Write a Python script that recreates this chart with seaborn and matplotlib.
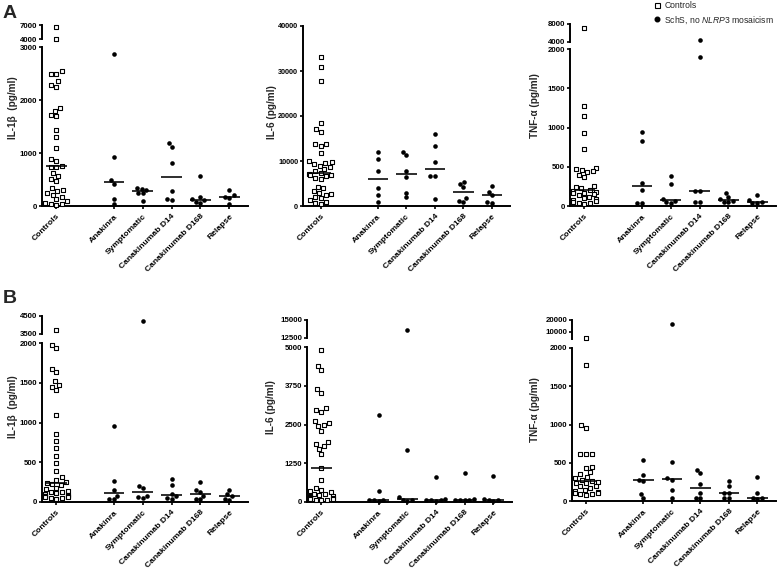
import numpy as np
import pandas as pd
import matplotlib
matplotlib.use("Agg")
import matplotlib.pyplot as plt
import seaborn as sns
from matplotlib.lines import Line2D

# ---------------- data ----------------
GROUPS = ["Controls", "Anakinra", "Symptomatic", "Canakinumab D14",
          "Canakinumab D168", "Relapse"]
SLOTS = ["Controls", "_gap", "Anakinra", "Symptomatic", "Canakinumab D14",
         "Canakinumab D168", "Relapse"]

a_il1b = {
    "Controls": [6500, 4100, 2540, 2490, 2490, 2350, 2280, 2250, 1840, 1800, 1715,
                 1700, 1430, 1300, 1095, 880, 850, 760, 740, 730, 620, 575, 510,
                 475, 335, 300, 275, 240, 210, 165, 130, 85, 50, 40, 30, 20],
    "Anakinra": [2860, 920, 490, 420, 140, 35],
    "Symptomatic": [335, 330, 300, 250, 240, 100],
    "Canakinumab D14": [1180, 1110, 820, 280, 125, 120],
    "Canakinumab D168": [575, 175, 130, 110, 80, 60],
    "Relapse": [300, 200, 175, 160, 40],
}
a_il6 = {
    "Controls": [33100, 30900, 27700, 18500, 17200, 16400, 13800, 13700, 13400,
                 11700, 9900, 9800, 9600, 9300, 9000, 8700, 8200, 7800, 7250, 7100,
                 7000, 6800, 6600, 6300, 5900, 4300, 3900, 3300, 3000, 2700, 2500,
                 2100, 1800, 1300, 1000, 700, 500],
    "Anakinra": [12100, 10500, 7800, 4100, 2400, 1000],
    "Symptomatic": [12100, 11300, 7800, 6500, 3000, 1900],
    "Canakinumab D14": [16100, 13400, 9700, 6700, 6600, 1500],
    "Canakinumab D168": [5300, 4900, 4300, 1800, 1200, 900],
    "Relapse": [4400, 3200, 2500, 900, 700],
}
a_tnf = {
    "Controls": [7200, 1280, 1150, 930, 720, 480, 470, 460, 440, 430, 400, 370, 250,
                 240, 230, 200, 190, 180, 170, 160, 150, 140, 120, 100, 90, 80, 60,
                 50, 40, 40, 30],
    "Anakinra": [940, 830, 290, 210, 40, 40],
    "Symptomatic": [385, 280, 90, 60, 45, 40],
    "Canakinumab D14": [4400, 1900, 190, 185, 45, 45],
    "Canakinumab D168": [170, 120, 85, 60, 50, 45],
    "Relapse": [145, 80, 45, 40, 35],
}
b_il1b = {
    "Controls": [3750, 1980, 1940, 1670, 1630, 1520, 1470, 1450, 1410, 1100, 850,
                 770, 680, 580, 490, 390, 310, 280, 250, 240, 230, 220, 180, 160,
                 140, 130, 120, 110, 100, 90, 80, 75, 70, 65, 60, 50, 45, 40],
    "Anakinra": [960, 260, 150, 80, 40, 35],
    "Symptomatic": [4200, 200, 170, 75, 60, 50],
    "Canakinumab D14": [290, 220, 105, 70, 50, 40],
    "Canakinumab D168": [250, 150, 130, 80, 40, 35],
    "Relapse": [150, 95, 80, 40, 30],
}
b_il6 = {
    "Controls": [4900, 4400, 4250, 3650, 3530, 3020, 2960, 2900, 2600, 2550, 2500,
                 2450, 2300, 1920, 1880, 1820, 1720, 1560, 1100, 700, 450, 400, 350,
                 320, 270, 250, 220, 200, 180, 160, 140, 120, 100, 90, 80, 60, 50],
    "Anakinra": [2800, 350, 80, 60, 50, 30],
    "Symptomatic": [13600, 1680, 160, 60, 50, 40],
    "Canakinumab D14": [800, 100, 75, 60, 50, 40],
    "Canakinumab D168": [950, 100, 80, 70, 60, 50],
    "Relapse": [830, 100, 80, 50, 40],
}
b_tnf = {
    "Controls": [4300, 1780, 990, 960, 620, 610, 610, 450, 430, 380, 350, 320, 300,
                 280, 260, 250, 240, 230, 200, 190, 170, 150, 130, 120, 110, 100,
                 95, 90, 80],
    "Anakinra": [540, 340, 280, 265, 90, 35],
    "Symptomatic": [16500, 510, 300, 275, 150, 35],
    "Canakinumab D14": [400, 360, 220, 110, 35, 35],
    "Canakinumab D168": [255, 195, 110, 100, 40, 35],
    "Relapse": [310, 100, 40, 35, 30],
}

IL1B_LABEL = "IL-1\u03b2  (pg/ml)"
IL6_LABEL = "IL-6 (pg/ml)"
TNF_LABEL = "TNF-\u03b1 (pg/ml)"

# ---------------- style ----------------
sns.set_style("ticks")
plt.rcParams.update({
    "font.family": ["Liberation Sans", "DejaVu Sans"],
    "font.weight": "bold",
    "mathtext.fontset": "custom",
    "mathtext.rm": "Liberation Sans:weight=normal",
    "mathtext.it": "Liberation Sans:style=italic:weight=normal",
    "axes.linewidth": 1.4,
    "axes.edgecolor": "black",
    "xtick.color": "black",
    "ytick.color": "black",
})

W, H = 778, 572
fig = plt.figure(figsize=(W / 100, H / 100), dpi=100)


def px_axes(l, r, t, b):
    ax = fig.add_axes([l / W, 1 - b / H, (r - l) / W, (b - t) / H])
    ax.patch.set_alpha(0)
    return ax


def long_df(panel):
    rows = [(g, v) for g in GROUPS for v in panel[g]]
    return pd.DataFrame(rows, columns=["group", "value"])


TICK_POS = [0, 2, 3, 4, 5, 6]


def draw_points(ax, df, lo, hi):
    sub = df[(df.value > lo) & (df.value <= hi)]
    ctrl = sub[sub.group == "Controls"]
    pat = sub[sub.group != "Controls"]
    if len(ctrl):
        sns.swarmplot(data=ctrl, x="group", y="value", order=SLOTS, marker="s",
                      size=3.2, color="white", edgecolor="black", linewidth=0.8,
                      ax=ax, warn_thresh=1, zorder=3)
    if len(pat):
        sns.swarmplot(data=pat, x="group", y="value", order=SLOTS, marker="o",
                      size=3.3, color="black", linewidth=0, ax=ax,
                      warn_thresh=1, zorder=3)
    for c in ax.collections:
        c.set_clip_on(False)


def draw_medians(ax, df):
    sns.boxplot(data=df, x="group", y="value", order=SLOTS, width=0.72,
                showbox=False, showcaps=False, showfliers=False,
                whiskerprops={"visible": False},
                medianprops={"color": "black", "linewidth": 1.15, "zorder": 4},
                ax=ax)


def style_common(ax, xlim, ylim, yticks, ytick_fs):
    ax.set_xlim(xlim)
    ax.set_ylim(ylim)
    ax.set_yticks(yticks)
    ax.set_xlabel("")
    ax.set_ylabel("")
    ax.tick_params(axis="y", labelsize=ytick_fs, length=2.5, width=1.2, pad=1)
    for lab in ax.get_yticklabels():
        lab.set_fontweight("bold")
    ax.spines["top"].set_visible(False)
    ax.spines["right"].set_visible(False)


def panel(data, lower_box, lower_lim, lower_ticks, upper_box=None,
          upper_lim=None, upper_ticks=None, ytick_fs=5.7, xlim=(-0.5, 6.65)):
    df = long_df(data)
    lo_ax = px_axes(*lower_box)
    draw_medians(lo_ax, df)
    draw_points(lo_ax, df, -np.inf, lower_lim[1])
    style_common(lo_ax, xlim, lower_lim, lower_ticks, ytick_fs)
    lo_ax.set_xticks(TICK_POS)
    lo_ax.set_xticklabels(GROUPS, rotation=45, ha="right",
                          rotation_mode="anchor", fontsize=6.1,
                          fontweight="bold")
    lo_ax.tick_params(axis="x", length=2.5, width=1.2, pad=2.5)
    if upper_box is not None:
        up_ax = px_axes(*upper_box)
        draw_points(up_ax, df, lower_lim[1], upper_lim[1])
        style_common(up_ax, xlim, upper_lim, upper_ticks, ytick_fs)
        up_ax.set_xticks([])
        up_ax.spines["bottom"].set_visible(False)


# ---------------- panels ----------------
panel(a_il1b, (42, 248, 47, 206), (0, 3000), [0, 1000, 2000, 3000],
      (42, 248, 25, 39), (4000, 7000), [4000, 7000])
panel(a_il6, (303, 510, 26, 206), (0, 40000),
      [0, 10000, 20000, 30000, 40000], ytick_fs=5.2, xlim=(-0.62, 6.63))
panel(a_tnf, (570, 776, 49, 206), (0, 2000), [0, 500, 1000, 1500, 2000],
      (570, 776, 24, 42), (4000, 8000), [4000, 8000])
panel(b_il1b, (42, 248, 343, 502), (0, 2000), [0, 500, 1000, 1500, 2000],
      (42, 248, 316, 334), (3500, 4500), [3500, 4500])
panel(b_il6, (307, 512, 347, 502), (0, 5000), [0, 1250, 2500, 3750, 5000],
      (307, 512, 320, 338), (12500, 15000), [12500, 15000])
panel(b_tnf, (572, 776, 348, 501), (0, 2000), [0, 500, 1000, 1500, 2000],
      (572, 776, 320, 339), (3500, 20000), [10000, 20000])

# y labels
for txt, x, y in [(IL1B_LABEL, 13, 108), (IL6_LABEL, 272, 112),
                  (TNF_LABEL, 535, 106), (IL1B_LABEL, 13, 407),
                  (IL6_LABEL, 271, 407), (TNF_LABEL, 535, 410)]:
    fig.text(x / W, 1 - y / H, txt, rotation=90, ha="center", va="center",
             fontsize=7.2, fontweight="bold")

# panel letters
fig.text(3 / W, 1 - 5 / H, "A", fontsize=14, fontweight="bold", va="top")
fig.text(3 / W, 1 - 290 / H, "B", fontsize=14, fontweight="bold", va="top")

# legend
handles = [
    Line2D([], [], marker="s", ls="", mfc="white", mec="black", ms=3.6,
           mew=0.8, label="Controls"),
    Line2D([], [], marker="o", ls="", mfc="black", mec="black", ms=3.3,
           label="SchS, no $\\it{NLRP3}$ mosaicism"),
]
fig.legend(handles=handles, loc="upper left", bbox_to_anchor=(652 / W, 1.0),
           frameon=False, prop={"size": 6.2, "weight": "normal"},
           handlelength=1.0, handletextpad=0.35, labelspacing=0.5,
           borderpad=0.1, borderaxespad=0)

fig.savefig("out.png", dpi=100)
